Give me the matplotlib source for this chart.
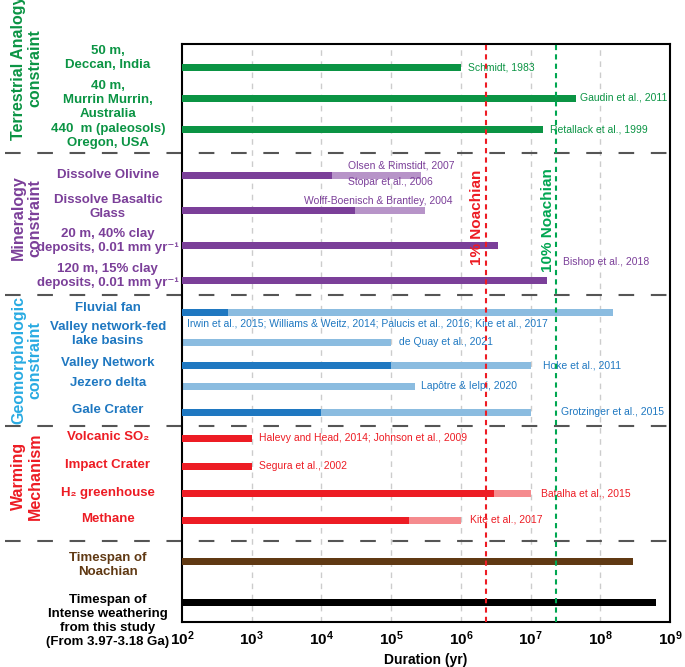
import numpy as np
import matplotlib.pyplot as plt

plt.rcParams['font.family'] = ['Liberation Sans', 'DejaVu Sans']
plt.rcParams['mathtext.fontset'] = 'custom'
plt.rcParams['mathtext.bf'] = 'Liberation Sans:bold'
plt.rcParams['mathtext.rm'] = 'Liberation Sans:bold'
plt.rcParams['mathtext.default'] = 'bf'

# colours
green = '#0b9444'
purple = '#7b3f99'
purple_l = '#b794c8'
blue = '#1f78c1'
blue_l = '#8bbce0'
red = '#ed1c24'
red_l = '#f58b8e'
brown = '#603913'
sky = '#29abe2'

# rows (top to bottom)
row_labels = ["50 m,\nDeccan, India", "40 m,\nMurrin Murrin,\nAustralia",
              "440  m (paleosols)\nOregon, USA", "Dissolve Olivine",
              "Dissolve Basaltic\nGlass", "20 m, 40% clay\ndeposits, 0.01 mm yr\u207b\u00b9",
              "120 m, 15% clay\ndeposits, 0.01 mm yr\u207b\u00b9", "Fluvial fan",
              "Valley network-fed\nlake basins", "Valley Network", "Jezero delta",
              "Gale Crater", "Volcanic SO\u2082", "Impact Crater", "H\u2082 greenhouse",
              "Methane", "Timespan of\nNoachian",
              "Timespan of\nIntense weathering\nfrom this study\n(From 3.97-3.18 Ga)"]
# durations in years: dark part and light (upper range) part
dark_end = [1e6, 4.5e7, 1.5e7, 1.4e4, 3e4, 3.4e6, 1.7e7, 460, None, 1e5, None, 1e4,
            1e3, 1e3, 3e6, 1.8e5, 2.9e8, 6.3e8]
light_end = [None, None, None, 2.7e5, 3.1e5, None, None, 1.5e8, 1e5, 1e7, 2.2e5, 1e7,
             None, None, 1e7, 1e6, None, None]
dark_col = [green]*3 + [purple]*4 + [blue]*5 + [red]*4 + [brown, 'black']
light_col = [green]*3 + [purple_l]*4 + [blue_l]*5 + [red_l]*4 + [brown, 'black']
label_col = [green]*3 + [purple]*4 + [blue]*5 + [red]*4 + [brown, 'black']

# layout (vertical positions, pixel-like units from top)
bar_y = [23, 54, 85, 131, 166, 201, 236, 268, 298, 321, 342, 368, 394, 422, 449, 476, 517, 558]
label_y = [14, 56, 92, 131, 163, 197, 232, 264, 290, 319, 339, 366, 393, 421, 449, 475, 521, 577]
sep_y = [109, 251, 382, 497]

groups = ["Terrestrial Analogy\nconstraint", "Mineralogy\nconstraint",
          "Geomorphologic\nconstraint", "Warming\nMechanism"]
group_y = [24, 174, 316, 432]
group_col = [green, purple, sky, red]

refs = ["Schmidt, 1983", "Gaudin et al., 2011", "Retallack et al., 1999",
        "Olsen & Rimstidt, 2007", "Stopar et al., 2006",
        "Wolff-Boenisch & Brantley, 2004", "Bishop et al., 2018",
        "Irwin et al., 2015; Williams & Weitz, 2014; Palucis et al., 2016; Kite et al., 2017",
        "de Quay et al., 2021", "Hoke et al., 2011", "Lapôtre & Ielpi, 2020",
        "Grotzinger et al., 2015", "Halevy and Head, 2014; Johnson et al., 2009",
        "Segura et al., 2002", "Batalha et al., 2015", "Kite et al., 2017"]
ref_x = [1.27e6, 5.2e7, 1.9e7, 2.4e4, 2.4e4, 5.6e3, 2.9e7, 118, 1.3e5, 1.5e7, 2.7e5,
         2.7e7, 1.26e3, 1.26e3, 1.4e7, 1.35e6]
ref_y = [23, 54, 85, 122, 138, 157, 218, 279, 298, 321, 342, 368, 394, 422, 449, 476]
ref_col = [green]*3 + [purple]*4 + [blue]*5 + [red]*4

noachian_1 = 2.3e6
noachian_10 = 2.3e7

fig = plt.figure(figsize=(6.85, 6.67), dpi=100)
ax = fig.add_axes([182/685, 45/667, 488/685, 578/667])
ax.set_xscale('log')
ax.set_xlim(1e2, 1e9)
ax.set_ylim(578, 0)

for e in range(3, 9):
    ax.axvline(10.0**e, color='#cccccc', lw=1, ls=(0, (4, 4)), zorder=0)

h = 7
for i in range(len(row_labels)):
    if light_end[i] is not None:
        ax.barh(bar_y[i], light_end[i] - 1e2, left=1e2, height=h, color=light_col[i], zorder=2)
    if dark_end[i] is not None:
        ax.barh(bar_y[i], dark_end[i] - 1e2, left=1e2, height=h, color=dark_col[i], zorder=3)
    ax.text(-0.152, label_y[i], row_labels[i], transform=ax.get_yaxis_transform(),
            ha='center', va='center', fontsize=9.5, fontweight='bold', color=label_col[i],
            linespacing=1.25, clip_on=False)

for i in range(len(refs)):
    ax.text(ref_x[i], ref_y[i], refs[i], ha='left', va='center', fontsize=7.5,
            color=ref_col[i], zorder=4)

for g, gy, gc in zip(groups, group_y, group_col):
    ax.text(-0.318, gy, g, transform=ax.get_yaxis_transform(), rotation=90,
            ha='center', va='center', fontsize=11.5, fontweight='bold', color=gc,
            linespacing=1.1, multialignment='center', clip_on=False)

for s in sep_y:
    ax.plot([-0.363, 1.0], [s, s], transform=ax.get_yaxis_transform(), color='#555555',
            lw=1.5, ls=(0, (7.5, 8)), clip_on=False, zorder=1)

ax.axvline(noachian_1, color=red, lw=1.5, ls=(0, (2.5, 2)), zorder=5)
ax.axvline(noachian_10, color='#00a651', lw=1.5, ls=(0, (2.5, 2)), zorder=5)
ax.text(1.7e6, 173, "1% Noachian", rotation=90, ha='center', va='center',
        fontsize=11, fontweight='bold', color=red)
ax.text(1.75e7, 176, "10% Noachian", rotation=90, ha='center', va='center',
        fontsize=11, fontweight='bold', color='#00a651')

ticks = 10.0**np.arange(2, 10)
ax.set_xticks(ticks)
ax.set_xticklabels([r'$\mathbf{10^{%d}}$' % e for e in range(2, 10)], fontsize=11)
ax.xaxis.set_minor_locator(plt.NullLocator())
ax.tick_params(axis='x', length=0, pad=5)
ax.set_yticks([])
ax.set_xlabel('Duration (yr)', fontsize=10, fontweight='bold', labelpad=4)
for sp in ax.spines.values():
    sp.set_linewidth(1.5)

fig.savefig('out.png', dpi=100)
